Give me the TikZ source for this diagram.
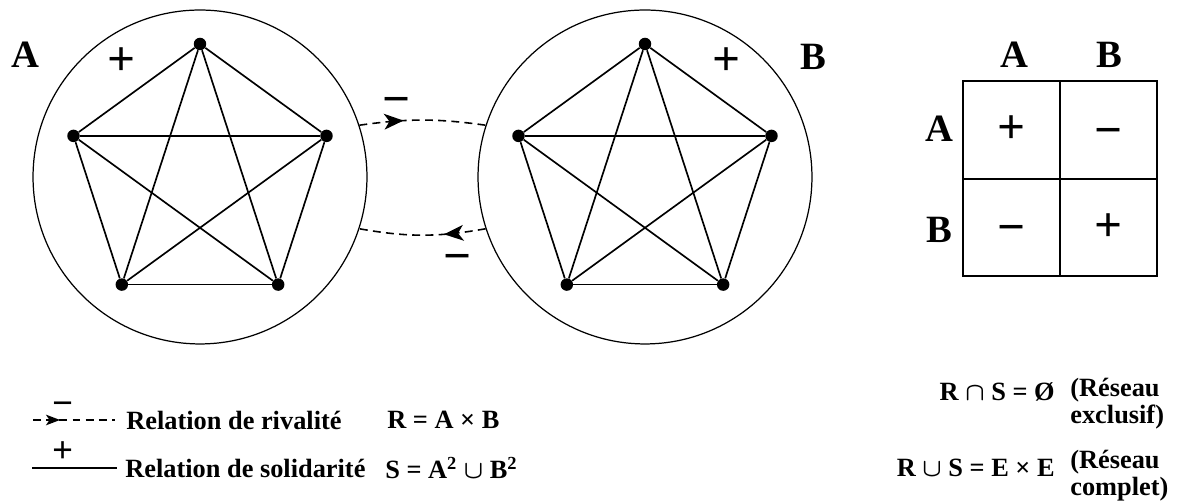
\documentclass[tikz,border=0pt]{standalone}
\usepackage{fontspec}
\setmainfont{Liberation Serif}
\usetikzlibrary{arrows.meta, positioning, calc, decorations.markings}

\newcommand{\minussign}{\vphantom{+}\raisebox{-0.1em}{−}}

\begin{document}
\begin{tikzpicture}[
    x=0.02cm, y=0.02cm,
    every node/.style={font=\bfseries\fontsize{15}{15.5}\selectfont\boldmath, inner sep=0pt},
    group/.style={draw, circle, line width=0.7pt, minimum size=6.68cm, inner sep=0pt},
    vertex/.style={circle, fill=black, inner sep=0pt, minimum size=2.5mm},
    link/.style={line width=0.95pt},
    rival/.style={line width=0.9pt, dash pattern=on 4.5pt off 3pt},
    biglab/.style={font=\bfseries\fontsize{22}{22}\selectfont},
    sign/.style={font=\bfseries\fontsize{28}{28}\selectfont},
    smallsign/.style={font=\bfseries\fontsize{21}{21}\selectfont},
    cell/.style={draw, line width=1pt, outer sep=0pt, minimum width=1.94cm,
                 minimum height=1.95cm, font=\bfseries\fontsize{28}{28}\selectfont},
    headarrow/.style={postaction={decorate}, decoration={markings,
                 mark=at position #1 with {\arrow{Stealth[length=11pt, width=9pt, inset=3pt]}}}},
    legendarrow/.style={postaction={decorate}, decoration={markings,
                 mark=at position #1 with {\arrow{Stealth[length=8pt, width=6pt, inset=2pt]}}}}
]
\useasboundingbox (0,0) rectangle (1178,502);

\node[group] (gA) at (200,325) {};
\node[group] (gB) at (645,325) {};
\foreach \i in {1,...,5}{
    \node[vertex] (a\i) at ($(gA.center)+(18+72*\i:133)$) {};
    \node[vertex] (b\i) at ($(gB.center)+(18+72*\i:133)$) {};
}
\foreach \i in {1,...,4}{
    \pgfmathtruncatemacro{\k}{\i+1}
    \foreach \j in {\k,...,5}{
        \draw[link] (a\i) -- (a\j);
        \draw[link] (b\i) -- (b\j);
    }
}
\node[biglab] (labA) at (25,447) {A};
\node[sign] (plusA) at (122,440) {+};
\node[biglab] (labB) at (813,445) {B};
\node[sign] (plusB) at (727,440) {+};

\draw[rival, headarrow=0.35] (gA.18) to[bend left=8] (gB.162);
\draw[rival, headarrow=0.33] (gB.198) to[bend left=10] (gA.342);
\node[sign] (minusAB) at (397,403) {\minussign};
\node[sign] (minusBA) at (458,246) {\minussign};

\node[cell] (cAA) at (1011.5,372) {+};
\node[cell, right=0pt of cAA] (cAB) {\minussign};
\node[cell, below=0pt of cAA] (cBA) {\minussign};
\node[cell, right=0pt of cBA] (cBB) {+};
\node[biglab] (colA) at (1014,447) {A};
\node[biglab] (colB) at (1109,447) {B};
\node[biglab] (rowA) at (939,373) {A};
\node[biglab] (rowB) at (939,272) {B};

\coordinate (rivS) at (33,82);
\coordinate (rivE) at (115,82);
\draw[rival, legendarrow=0.33] (rivS) -- (rivE);
\node[smallsign] (rivSign) at (63,99) {\minussign};
\node[anchor=west] (rivText) at (126,82) {Relation de rivalité};
\node[anchor=west] (rivForm) at (387,82) {R = A × B};
\coordinate (solS) at (32,34);
\coordinate (solE) at (117,34);
\draw[link] (solS) -- (solE);
\node[smallsign] (solSign) at (63,50) {+};
\node[anchor=west] (solText) at (125,34) {Relation de solidarité};
\node[anchor=west] (solForm) at (385,34) {S = A\textsuperscript{2} $\cup$ B\textsuperscript{2}};

\node[anchor=east] (inter) at (1055,110) {R $\cap$ S = Ø};
\node[anchor=west, align=left] (excl) at (1070,98) {(Réseau\\exclusif)};
\node[anchor=east] (union) at (1055,34) {R $\cup$ S = E × E};
\node[anchor=west, align=left] (compl) at (1070,26) {(Réseau\\complet)};
\end{tikzpicture}
\end{document}
